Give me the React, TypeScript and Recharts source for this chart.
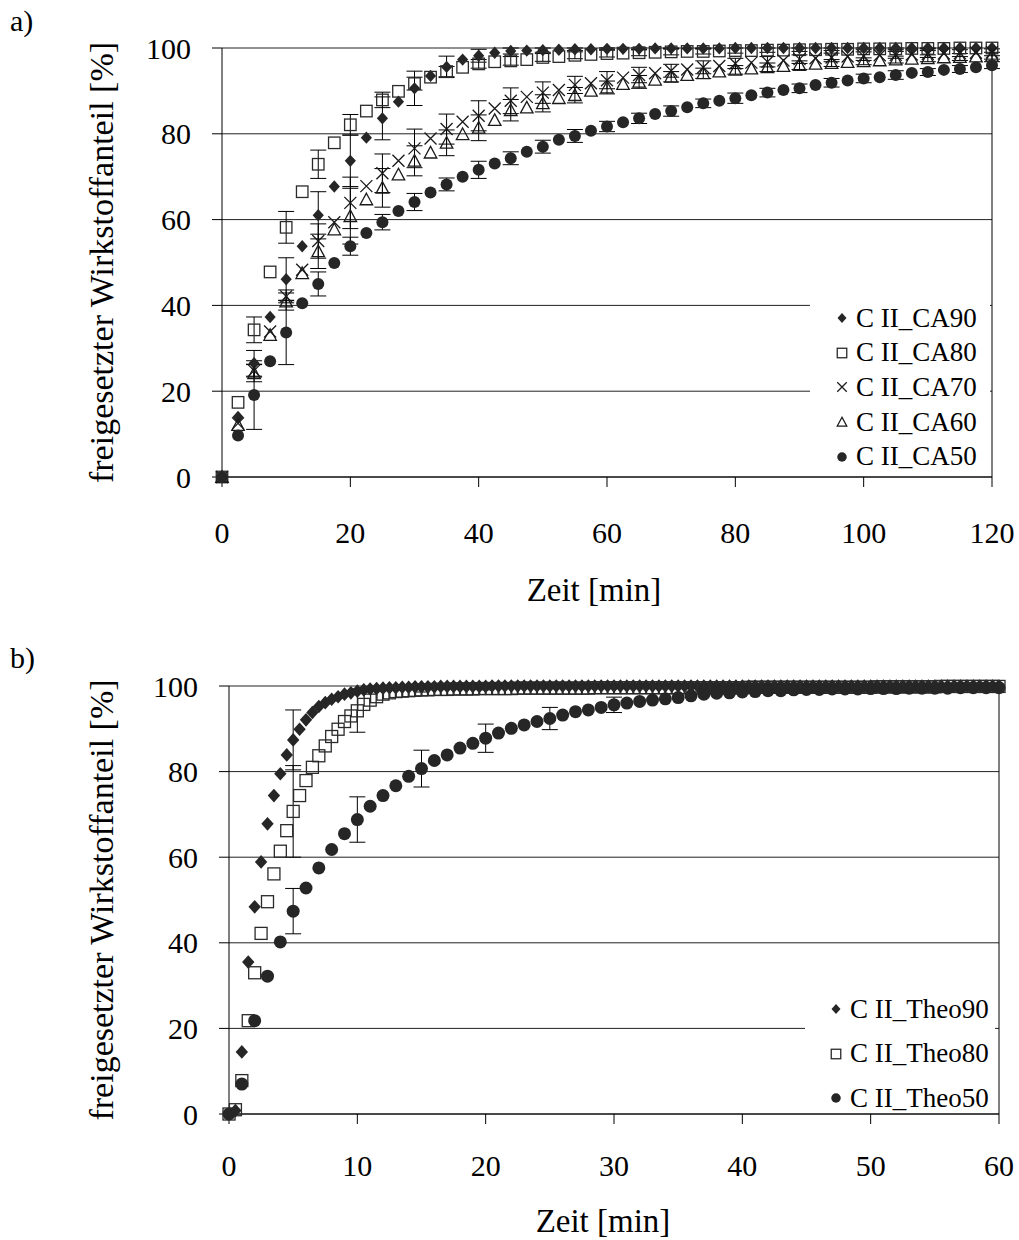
import { ScatterChart, Scatter, XAxis, YAxis, CartesianGrid, ErrorBar, Legend, Label, ReferenceLine } from 'recharts'

const FONT = '"Liberation Serif", "Times New Roman", serif'
const INK = '#262626'

// a) measured release, one point every 2.5 min
const timesA = [
  0, 2.5, 5, 7.5, 10, 12.5, 15, 17.5, 20, 22.5, 25, 27.5, 30, 32.5, 35, 37.5, 40, 42.5, 45, 47.5,
  50, 52.5, 55, 57.5, 60, 62.5, 65, 67.5, 70, 72.5, 75, 77.5, 80, 82.5, 85, 87.5, 90, 92.5, 95, 97.5,
  100, 102.5, 105, 107.5, 110, 112.5, 115, 117.5, 120,
]
const ca90 = [
  0, 14.0, 26.5, 37.3, 46.1, 53.8, 61.0, 67.7, 73.7, 79.1, 83.6, 87.5, 90.6, 93.5, 95.6, 97.3, 98.2, 98.9, 99.3, 99.4,
  99.5, 99.6, 99.7, 99.7, 99.8, 99.8, 99.8, 99.9, 99.9, 99.9, 99.9, 99.9, 100, 100, 100, 100, 100, 100, 100, 100,
  100, 100, 100, 100, 100, 100, 100, 100, 100,
]
const ca80 = [
  0, 17.4, 34.3, 47.8, 58.2, 66.5, 72.9, 77.9, 82.1, 85.3, 87.9, 89.9, 91.7, 93.2, 94.5, 95.5, 96.3, 96.8, 97.0, 97.3,
  97.8, 98.0, 98.3, 98.5, 98.7, 98.8, 98.9, 99.0, 99.1, 99.2, 99.2, 99.3, 99.4, 99.4, 99.5, 99.5, 99.6, 99.6, 99.7, 99.7,
  99.8, 99.8, 99.8, 99.9, 99.9, 99.9, 100, 100, 100,
]
const ca70 = [
  0, 12.5, 24.8, 33.9, 42.1, 48.3, 55.0, 59.4, 63.9, 67.8, 70.8, 73.7, 76.6, 78.9, 81.1, 82.8, 84.2, 85.9, 87.7, 88.6,
  89.6, 90.2, 91.4, 91.8, 92.5, 93.1, 93.7, 94.1, 94.7, 95.0, 95.5, 95.8, 96.4, 96.6, 96.8, 97.1, 97.4, 97.6, 97.8, 98.0,
  98.1, 98.3, 98.4, 98.5, 98.6, 98.7, 98.8, 98.9, 99.0,
]
const ca60 = [
  0, 12.1, 24.2, 33.1, 40.9, 47.5, 52.6, 57.7, 60.8, 64.7, 67.4, 70.5, 73.7, 75.6, 77.9, 79.9, 81.4, 83.2, 85.5, 86.1,
  87.1, 88.3, 89.0, 90.0, 90.8, 91.6, 92.1, 92.6, 93.3, 93.7, 94.1, 94.5, 94.9, 95.2, 95.5, 95.8, 96.0, 96.3, 96.5, 96.7,
  96.9, 97.1, 97.3, 97.5, 97.6, 97.8, 97.9, 98.0, 98.2,
]
const ca50 = [
  0, 9.7, 19.1, 27.0, 33.7, 40.5, 45.0, 49.9, 53.8, 56.9, 59.4, 62.0, 64.1, 66.3, 68.2, 70.0, 71.6, 73.1, 74.3, 75.8,
  77.0, 78.6, 79.5, 80.7, 81.7, 82.7, 83.6, 84.6, 85.3, 86.2, 87.1, 87.7, 88.3, 89.0, 89.6, 90.2, 90.6, 91.4, 91.9, 92.4,
  92.9, 93.2, 93.7, 94.2, 94.4, 94.9, 95.1, 95.5, 96.0,
]
// standard deviations, only given every 5 min
const errTimesA = [5, 10, 15, 20, 25, 30, 35, 40, 45, 50, 55, 60, 65, 70, 75, 80, 85, 90, 95, 100, 105, 110, 115, 120]
const ca90Err = [3, 5, 5.5, 6, 5, 4, 2.5, 1.5, 0.7, 0.5, 0.3, 0.2, 0.2, 0.1, 0.1, 0, 0, 0, 0, 0, 0, 0, 0, 0]
const ca80Err = [3, 3.7, 3.3, 2.4, 1.8, 1.5, 1.2, 1, 1, 0.9, 0.8, 0.8, 0.7, 0.7, 0.6, 0.6, 0.5, 0.4, 0.3, 0.2, 0.2, 0.1, 0, 0]
const ca70Err = [1.5, 1.5, 4, 6, 4.5, 4.5, 3.5, 3.5, 3, 2.5, 2, 2, 1.8, 1.5, 1.5, 1.2, 1.2, 1, 1, 1, 0.8, 0.8, 0.8, 0.8]
const ca60Err = [2, 2, 4, 6.5, 4.5, 3.5, 3, 3, 2.5, 2, 1.8, 1.5, 1.5, 1.2, 1.2, 1, 1, 1, 0.8, 0.8, 0.8, 0.8, 0.8, 0.8]
const ca50Err = [8, 7.5, 2.8, 2.1, 1.8, 2, 1.5, 2, 1.5, 1.5, 1.5, 1.2, 1.2, 1.2, 1, 1.2, 1, 1, 1, 1, 1, 0.8, 0.8, 0.8]

// b) theoretical profiles
const timesB = [
  0, 0.5, 1, 1.5, 2, 2.5, 3, 3.5, 4, 4.5, 5, 5.5, 6, 6.5, 7, 7.5, 8, 8.5, 9, 9.5,
  10, 10.5, 11, 11.5, 12, 12.5, 13, 13.5, 14, 14.5, 15, 15.5, 16, 16.5, 17, 17.5, 18, 18.5, 19, 19.5,
  20, 20.5, 21, 21.5, 22, 22.5, 23, 23.5, 24, 24.5, 25, 25.5, 26, 26.5, 27, 27.5, 28, 28.5, 29, 29.5,
  30, 30.5, 31, 31.5, 32, 32.5, 33, 33.5, 34, 34.5, 35, 35.5, 36, 36.5, 37, 37.5, 38, 38.5, 39, 39.5,
  40, 40.5, 41, 41.5, 42, 42.5, 43, 43.5, 44, 44.5, 45, 45.5, 46, 46.5, 47, 47.5, 48, 48.5, 49, 49.5,
  50, 50.5, 51, 51.5, 52, 52.5, 53, 53.5, 54, 54.5, 55, 55.5, 56, 56.5, 57, 57.5, 58, 58.5, 59, 59.5,
  60,
]
const theo90 = [
  0, 0.8, 14.5, 35.5, 48.4, 58.9, 67.8, 74.4, 79.5, 83.9, 87.4, 89.9, 92.1, 93.8, 95.2, 96.1, 96.9, 97.5, 98.1, 98.4,
  98.8, 99.1, 99.3, 99.4, 99.5, 99.6, 99.6, 99.7, 99.7, 99.8, 99.8, 99.8, 99.8, 99.9, 99.9, 99.9, 99.9, 99.9, 99.9, 99.9,
  99.9, 100, 100, 100, 100, 100, 100, 100, 100, 100, 100, 100, 100, 100, 100, 100, 100, 100, 100, 100,
  100, 100, 100, 100, 100, 100, 100, 100, 100, 100, 100, 100, 100, 100, 100, 100, 100, 100, 100, 100,
  100, 100, 100, 100, 100, 100, 100, 100, 100, 100, 100, 100, 100, 100, 100, 100, 100, 100, 100, 100,
  100, 100, 100, 100, 100, 100, 100, 100, 100, 100, 100, 100, 100, 100, 100, 100, 100, 100, 100, 100,
  100,
]
const theo80 = [
  0, 1.0, 7.8, 21.8, 33.0, 42.2, 49.6, 56.1, 61.4, 66.2, 70.7, 74.4, 77.9, 81.0, 83.7, 86.0, 88.2, 89.9, 91.7, 93.0,
  94.2, 95.7, 96.7, 97.5, 98.1, 98.4, 98.7, 98.8, 98.9, 99.0, 99.1, 99.1, 99.2, 99.2, 99.2, 99.3, 99.3, 99.3, 99.3, 99.4,
  99.4, 99.4, 99.4, 99.4, 99.4, 99.5, 99.5, 99.5, 99.5, 99.5, 99.5, 99.5, 99.5, 99.5, 99.5, 99.5, 99.5, 99.6, 99.6, 99.6,
  99.6, 99.6, 99.6, 99.6, 99.6, 99.6, 99.6, 99.6, 99.6, 99.6, 99.6, 99.6, 99.6, 99.6, 99.6, 99.6, 99.6, 99.6, 99.6, 99.6,
  99.6, 99.7, 99.7, 99.7, 99.7, 99.7, 99.7, 99.7, 99.7, 99.7, 99.7, 99.7, 99.7, 99.7, 99.7, 99.7, 99.7, 99.7, 99.7, 99.7,
  99.7, 99.8, 99.8, 99.8, 99.8, 99.8, 99.8, 99.8, 99.8, 99.8, 99.8, 99.9, 99.9, 99.9, 99.9, 99.9, 99.9, 99.9, 99.9, 99.9,
  99.9,
]
const timesB50 = [
  0, 1, 2, 3, 4, 5, 6, 7, 8, 9, 10, 11, 12, 13, 14, 15, 16, 17, 18, 19,
  20, 21, 22, 23, 24, 25, 26, 27, 28, 29, 30, 31, 32, 33, 34, 35, 36, 37, 38, 39,
  40, 41, 42, 43, 44, 45, 46, 47, 48, 49, 50, 51, 52, 53, 54, 55, 56, 57, 58, 59,
  60,
]
const theo50 = [
  0, 7.0, 21.8, 32.2, 40.2, 47.4, 52.8, 57.5, 61.8, 65.5, 68.8, 71.9, 74.4, 76.7, 78.9, 80.7, 82.6, 83.9, 85.5, 86.6,
  87.8, 89.0, 90.1, 90.9, 91.7, 92.4, 93.2, 94.0, 94.4, 95.0, 95.6, 96.0, 96.4, 96.7, 97.0, 97.3, 97.7, 98.1, 98.3, 98.4,
  98.6, 98.7, 98.9, 98.9, 99.1, 99.2, 99.2, 99.3, 99.3, 99.3, 99.4, 99.4, 99.4, 99.5, 99.5, 99.5, 99.5, 99.6, 99.6, 99.6,
  99.6,
]
const errTimesB = [5, 10, 15, 20, 25, 30]
const theo90Err = [7, 0.5, 0.2, 0, 0, 0]
const theo80Err = [10.7, 5, 0.5, 0.3, 0, 0]
const theo50Err = [5.3, 5.3, 4.3, 3.3, 2.6, 1.8]

const ticksA = [0, 20, 40, 60, 80, 100, 120]
const ticksB = [0, 10, 20, 30, 40, 50, 60]
const ticksY = [0, 20, 40, 60, 80, 100]

type Kind = 'diamond' | 'square' | 'cross' | 'triangle' | 'circle'

const toPoints = (ts: number[], vs: number[], errTs: number[], errs: number[]) =>
  ts.map((t, i) => {
    const k = errTs.indexOf(t)
    return { t, v: vs[i], err: k >= 0 ? errs[k] : 0 }
  })

function Marker({ kind, cx, cy, s }: { kind: Kind; cx: number; cy: number; s: number }) {
  const h = s / 2
  if (kind === 'diamond')
    return <polygon points={`${cx},${cy - h * 1.05} ${cx + h * 0.95},${cy} ${cx},${cy + h * 1.05} ${cx - h * 0.95},${cy}`} fill={INK} />
  if (kind === 'square')
    return <rect x={cx - h} y={cy - h} width={s} height={s} fill="none" stroke="#2a2a2a" strokeWidth={1.3} />
  if (kind === 'cross')
    return <path d={`M${cx - h},${cy - h}L${cx + h},${cy + h}M${cx + h},${cy - h}L${cx - h},${cy + h}`} stroke="#1a1a1a" strokeWidth={1.3} />
  if (kind === 'triangle')
    return <polygon points={`${cx},${cy - h} ${cx + h},${cy + h * 0.85} ${cx - h},${cy + h * 0.85}`} fill="none" stroke="#1a1a1a" strokeWidth={1.3} />
  return <circle cx={cx} cy={cy} r={h} fill={INK} />
}

const shapeOf = (kind: Kind, s: number) => (p: any) => <Marker kind={kind} cx={p.cx} cy={p.cy} s={s} />

const sizeA: Record<Kind, number> = { diamond: 11.8, square: 11.5, cross: 12, triangle: 12.5, circle: 12 }
const sizeB: Record<Kind, number> = { diamond: 13, square: 12, cross: 12, triangle: 12, circle: 13 }

const seriesA = [
  { name: 'C II_CA90', kind: 'diamond' as Kind, data: toPoints(timesA, ca90, errTimesA, ca90Err) },
  { name: 'C II_CA80', kind: 'square' as Kind, data: toPoints(timesA, ca80, errTimesA, ca80Err) },
  { name: 'C II_CA70', kind: 'cross' as Kind, data: toPoints(timesA, ca70, errTimesA, ca70Err) },
  { name: 'C II_CA60', kind: 'triangle' as Kind, data: toPoints(timesA, ca60, errTimesA, ca60Err) },
  { name: 'C II_CA50', kind: 'circle' as Kind, data: toPoints(timesA, ca50, errTimesA, ca50Err) },
]
const seriesB = [
  { name: 'C II_Theo90', kind: 'diamond' as Kind, data: toPoints(timesB, theo90, errTimesB, theo90Err) },
  { name: 'C II_Theo80', kind: 'square' as Kind, data: toPoints(timesB, theo80, errTimesB, theo80Err) },
  { name: 'C II_Theo50', kind: 'circle' as Kind, data: toPoints(timesB50, theo50, errTimesB, theo50Err) },
]

const legendContent = (items: { name: string; kind: Kind }[], rowH: number, gap: number, padTop: number, padLeft: number) => () => (
  <div style={{ background: '#fff', paddingTop: padTop, fontFamily: FONT, fontSize: 27, color: '#000' }}>
    {items.map((it, i) => (
      <div key={it.name} style={{ height: rowH, marginTop: i ? gap : 0, display: 'flex', alignItems: 'center', paddingLeft: padLeft }}>
        <svg width={14} height={14} style={{ flex: 'none' }}>
          <Marker kind={it.kind} cx={7} cy={7} s={9.5} />
        </svg>
        <span style={{ marginLeft: 7, lineHeight: 1, whiteSpace: 'nowrap' }}>{it.name}</span>
      </div>
    ))}
  </div>
)

const yTitle = (x: number) => (props: any) => {
  const vb = props.viewBox
  const cy = vb.y + vb.height / 2
  return (
    <text x={x} y={cy} transform={`rotate(-90 ${x} ${cy})`} textAnchor="middle" dominantBaseline="central" fill="#000" style={{ fontFamily: FONT, fontSize: 34 }}>
      freigesetzter Wirkstoffanteil [%]
    </text>
  )
}

const xTitle = (dx: number, dy: number) => (props: any) => {
  const vb = props.viewBox
  const x = vb.x + vb.width / 2 + dx
  return (
    <text x={x} y={vb.y + dy} textAnchor="middle" fill="#000" style={{ fontFamily: FONT, fontSize: 33 }}>
      Zeit [min]
    </text>
  )
}

const tickStyle = { fontSize: 30, fill: '#000', fontFamily: FONT }
const axisStroke = { stroke: '#000', strokeWidth: 1 }

export default function App() {
  return (
    <div style={{ position: 'absolute', left: 0, top: 0, width: 1019, height: 1240, background: '#fff', fontFamily: FONT }}>
      <div style={{ position: 'absolute', left: 10, top: 6, fontSize: 30, lineHeight: '30px' }}>a)</div>
      <div style={{ position: 'absolute', left: 10, top: 643, fontSize: 30, lineHeight: '30px' }}>b)</div>

      <div style={{ position: 'absolute', left: 0, top: 0 }}>
        <ScatterChart width={1019} height={620} margin={{ top: 48, right: 27, left: 0, bottom: 0 }}>
          <CartesianGrid vertical={false} stroke="#222" />
          <XAxis type="number" dataKey="t" domain={[0, 120]} ticks={ticksA} height={143}
            tick={tickStyle} tickSize={10} tickMargin={35} axisLine={axisStroke} tickLine={axisStroke}>
            <Label content={xTitle(-13, 124)} />
          </XAxis>
          <YAxis type="number" dataKey="v" domain={[0, 100]} ticks={ticksY} width={222}
            tick={tickStyle} tickSize={10} tickMargin={21} axisLine={axisStroke} tickLine={axisStroke}>
            <Label content={yTitle(101)} />
          </YAxis>
          <ReferenceLine x={120} stroke="#000" />
          {seriesA.map(s => (
            <Scatter key={s.name} name={s.name} data={s.data} shape={shapeOf(s.kind, sizeA[s.kind])} isAnimationActive={false}>
              <ErrorBar dataKey="err" direction="y" width={8} stroke="#000" strokeWidth={1} />
            </Scatter>
          ))}
          <Legend layout="horizontal" verticalAlign="middle" align="center"
            wrapperStyle={{ left: 810, top: 298, width: 180, height: 176 }}
            content={legendContent(seriesA, 34.6, 0, 3, 25)} />
        </ScatterChart>
      </div>

      <div style={{ position: 'absolute', left: 0, top: 620 }}>
        <ScatterChart width={1019} height={620} margin={{ top: 66, right: 20, left: 0, bottom: 0 }}>
          <CartesianGrid vertical={false} stroke="#222" />
          <XAxis type="number" dataKey="t" domain={[0, 60]} ticks={ticksB} height={126}
            tick={tickStyle} tickSize={10} tickMargin={31} axisLine={axisStroke} tickLine={axisStroke}>
            <Label content={xTitle(-11, 118)} />
          </XAxis>
          <YAxis type="number" dataKey="v" domain={[0, 100]} ticks={ticksY} width={229}
            tick={tickStyle} tickSize={10} tickMargin={21} axisLine={axisStroke} tickLine={axisStroke}>
            <Label content={yTitle(101)} />
          </YAxis>
          <ReferenceLine x={60} stroke="#000" />
          {seriesB.map(s => (
            <Scatter key={s.name} name={s.name} data={s.data} shape={shapeOf(s.kind, sizeB[s.kind])} isAnimationActive={false}>
              <ErrorBar dataKey="err" direction="y" width={8} stroke="#000" strokeWidth={1} />
            </Scatter>
          ))}
          <Legend layout="horizontal" verticalAlign="middle" align="center"
            wrapperStyle={{ left: 805, top: 370, width: 190, height: 123 }}
            content={legendContent(seriesB, 30, 14.5, 4, 24)} />
        </ScatterChart>
      </div>
    </div>
  )
}
